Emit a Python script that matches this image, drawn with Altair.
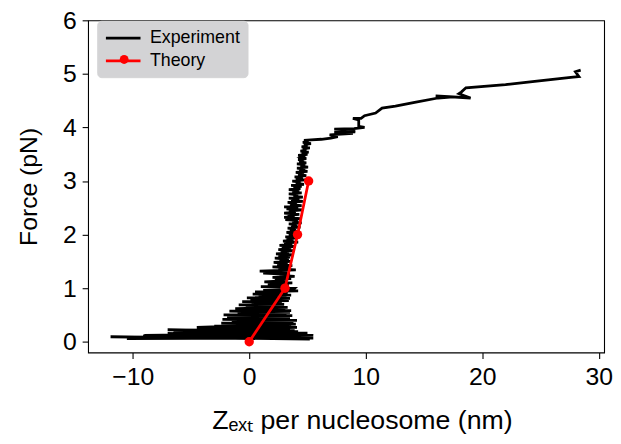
import altair as alt
import pandas as pd

# Experimental trace (extension per nucleosome in nm, force in pN), in recording order
exp_pts = [
    # low-force region: large extension fluctuations
    (5.2, 0.05), (-11.9, 0.09), (5.5, 0.07), (-10.5, 0.06), (5.5, 0.12), (-9.1, 0.11),
    (4.8, 0.09), (-8.0, 0.07), (5.3, 0.10), (-7.0, 0.15), (4.5, 0.14), (-9.0, 0.12),
    (5.0, 0.16), (-5.5, 0.17), (4.2, 0.19), (-7.0, 0.22), (3.9, 0.21), (-4.0, 0.26),
    (3.5, 0.24), (-6.5, 0.20), (4.1, 0.27), (-3.0, 0.29), (3.6, 0.31), (-4.5, 0.27),
    (4.0, 0.33), (-2.4, 0.35), (3.8, 0.37), (-1.5, 0.39), (4.1, 0.40), (-2.3, 0.42),
    (3.5, 0.43), (-1.9, 0.45), (3.4, 0.46), (-0.8, 0.48), (3.7, 0.49), (-2.2, 0.50),
    (3.2, 0.52), (-1.0, 0.54), (3.5, 0.55), (-1.7, 0.57), (3.6, 0.58), (-0.5, 0.60),
    (3.1, 0.61), (-1.2, 0.62), (3.3, 0.64), (-0.3, 0.65), (2.9, 0.67), (-0.9, 0.69),
    (3.0, 0.70), (0.2, 0.72), (2.8, 0.73), (-0.6, 0.75), (3.4, 0.77), (0.1, 0.79),
    (3.5, 0.81), (-0.2, 0.82), (3.2, 0.84), (0.8, 0.86), (3.6, 0.87), (0.3, 0.89),
    (3.3, 0.91), (0.5, 0.93), (4.2, 0.95), (1.2, 0.96), (3.8, 0.98),
    # steep rise
    (3.9, 1.00), (1.0, 1.03), (3.4, 1.05), (1.6, 1.08), (3.7, 1.10), (1.3, 1.12),
    (3.2, 1.14), (2.2, 1.16), (3.6, 1.18), (2.0, 1.20), (3.9, 1.22), (2.6, 1.24),
    (3.5, 1.26), (1.2, 1.28), (3.3, 1.30), (0.9, 1.32), (4.0, 1.34), (2.5, 1.36),
    (3.4, 1.38), (2.0, 1.40), (3.7, 1.42), (2.4, 1.44), (3.3, 1.46), (2.1, 1.48),
    (3.6, 1.50), (2.6, 1.52), (3.4, 1.54), (2.2, 1.56), (3.5, 1.58), (2.5, 1.60),
    (3.8, 1.62), (2.3, 1.64), (3.4, 1.66), (2.7, 1.68), (3.9, 1.70), (2.5, 1.72),
    (3.6, 1.74), (2.8, 1.76), (4.0, 1.78), (2.6, 1.80), (3.7, 1.82), (3.0, 1.84),
    (4.2, 1.86), (2.9, 1.88), (3.8, 1.90), (3.2, 1.92), (4.1, 1.94), (3.1, 1.96),
    (4.3, 1.98), (3.4, 2.00), (3.9, 2.02), (3.2, 2.04), (4.3, 2.06), (3.5, 2.08),
    (4.0, 2.10), (3.3, 2.12), (4.4, 2.14), (3.6, 2.16), (4.1, 2.18), (3.4, 2.20),
    (4.5, 2.22), (3.7, 2.24), (4.2, 2.26), (3.1, 2.28), (4.4, 2.30), (3.0, 2.32),
    (3.9, 2.34), (3.3, 2.36), (4.3, 2.38), (3.0, 2.40), (4.0, 2.42), (3.4, 2.44),
    (4.6, 2.46), (3.2, 2.48), (4.2, 2.50), (3.0, 2.52), (4.5, 2.54), (3.5, 2.56),
    (4.1, 2.58), (3.3, 2.60), (4.6, 2.62), (3.6, 2.64), (4.3, 2.66), (3.4, 2.68),
    (4.6, 2.70), (3.8, 2.72), (4.2, 2.74), (3.4, 2.76), (4.5, 2.78), (3.7, 2.80),
    (4.3, 2.82), (3.4, 2.84), (4.4, 2.86), (3.8, 2.88), (4.5, 2.90), (3.6, 2.92),
    (4.7, 2.94), (4.0, 2.96), (4.4, 2.98), (3.7, 3.00), (4.8, 3.02), (4.0, 3.04),
    (4.6, 3.06), (3.9, 3.08), (4.9, 3.10), (4.2, 3.12), (4.7, 3.14), (4.0, 3.16),
    (5.0, 3.18), (4.3, 3.20), (4.8, 3.22), (4.1, 3.24), (5.05, 3.26), (4.4, 3.28),
    (4.8, 3.30), (4.1, 3.32), (4.9, 3.34), (4.3, 3.36), (4.7, 3.38), (4.2, 3.40),
    (4.9, 3.42), (4.5, 3.44), (4.8, 3.46), (4.2, 3.48), (5.0, 3.50), (4.5, 3.52),
    (5.1, 3.54), (4.4, 3.56), (4.9, 3.58), (4.6, 3.60), (5.2, 3.62), (4.5, 3.64),
    (5.0, 3.66), (4.7, 3.68), (5.3, 3.70), (4.6, 3.72), (5.1, 3.74), (4.7, 3.76),
    (5.3, 3.77),
    # unfolding plateau region
    (6.2, 3.78), (7.0, 3.80), (7.6, 3.83), (6.9, 3.86), (8.9, 3.89), (7.3, 3.91), (9.1, 3.92),
    (8.5, 3.95), (7.3, 3.97), (9.0, 3.98), (9.9, 4.00), (9.4, 4.02), (9.4, 4.14),
    (8.9, 4.17), (9.6, 4.17), (9.9, 4.22), (10.85, 4.27), (11.4, 4.36), (12.55, 4.40),
    (14.2, 4.47), (16.2, 4.55), (17.5, 4.57), (16.0, 4.59), (19.0, 4.55), (18.0, 4.63),
    (18.2, 4.66), (18.6, 4.74), (22.0, 4.80), (24.5, 4.86), (27.8, 4.94), (28.3, 4.95),
    (28.0, 5.04), (28.45, 5.07),
]
exp_z = [p[0] for p in exp_pts]
exp_f = [p[1] for p in exp_pts]

theory_z = [0.0, 3.07, 4.15, 5.1]
theory_f = [0.0, 1.0, 2.0, 3.0]

series_names = ["Experiment", "Theory"]
series_colors = ["black", "red"]
x_ticks = [-10, 0, 10, 20, 30]
y_ticks = [0, 1, 2, 3, 4, 5, 6]

lines = pd.DataFrame({
    "z": exp_z + theory_z,
    "f": exp_f + theory_f,
    "series": [series_names[0]] * len(exp_z) + [series_names[1]] * len(theory_z),
    "i": list(range(len(exp_z))) + list(range(len(theory_z))),
})
pts = pd.DataFrame({"z": theory_z, "f": theory_f, "marker": [series_names[1]] * len(theory_z)})

FONT = "Liberation Sans"
xs = alt.Scale(domain=[-13.83, 30.46], nice=False, zero=False)
ys = alt.Scale(domain=[-0.2, 6], nice=False, zero=False)

line_layer = alt.Chart(lines).mark_line(strokeWidth=2.8, clip=True).encode(
    x=alt.X("z:Q", scale=xs,
            axis=alt.Axis(values=x_ticks, format="d", title="Zₑₓₜ per nucleosome (nm)",
                          titleX=277, labelPadding=6, titlePadding=19, titleFontSize=27)),
    y=alt.Y("f:Q", scale=ys,
            axis=alt.Axis(values=y_ticks, format="d", title="Force (pN)",
                          labelPadding=6, titlePadding=21)),
    color=alt.Color("series:N",
                    scale=alt.Scale(domain=series_names, range=series_colors),
                    legend=alt.Legend(orient="none", legendX=9.3, legendY=0.5, title=None,
                                      symbolType="M-2,0H2", symbolSize=306.25, symbolOffset=8.75,
                                      symbolStrokeWidth=2.8, labelFont=FONT,
                                      labelFontSize=18, labelColor="black", labelOffset=16.5,
                                      padding=7, rowPadding=3, fillColor="#d3d3d5",
                                      strokeColor="#d3d3d5", cornerRadius=4)),
    order="i:Q",
)

pt_layer = alt.Chart(pts).mark_point(filled=True, size=90, opacity=1, color="red").encode(
    x="z:Q",
    y="f:Q",
    shape=alt.Shape("marker:N", scale=alt.Scale(domain=[series_names[1]], range=["circle"]),
                    legend=alt.Legend(orient="none", legendX=31, legendY=34.1, title=None,
                                      labelExpr="''", symbolSize=80, symbolFillColor="red",
                                      symbolStrokeColor="red", symbolOpacity=1, padding=0,
                                      labelFontSize=1, labelOffset=0)),
)

chart = alt.layer(line_layer, pt_layer).properties(
    width=522, height=336,
    autosize=alt.AutoSizeParams(type="none"),
    padding={"left": 81, "top": 10, "right": 9, "bottom": 80},
).configure_view(
    stroke="black", strokeWidth=1.1
).configure_axis(
    domain=False, grid=False, tickColor="black", tickWidth=1.1, tickSize=6,
    labelFont=FONT, labelFontSize=25, labelColor="black",
    titleFont=FONT, titleFontSize=25, titleFontWeight="normal", titleColor="black",
)

chart.save("out.html", embed_options={"renderer": "svg", "actions": False})
